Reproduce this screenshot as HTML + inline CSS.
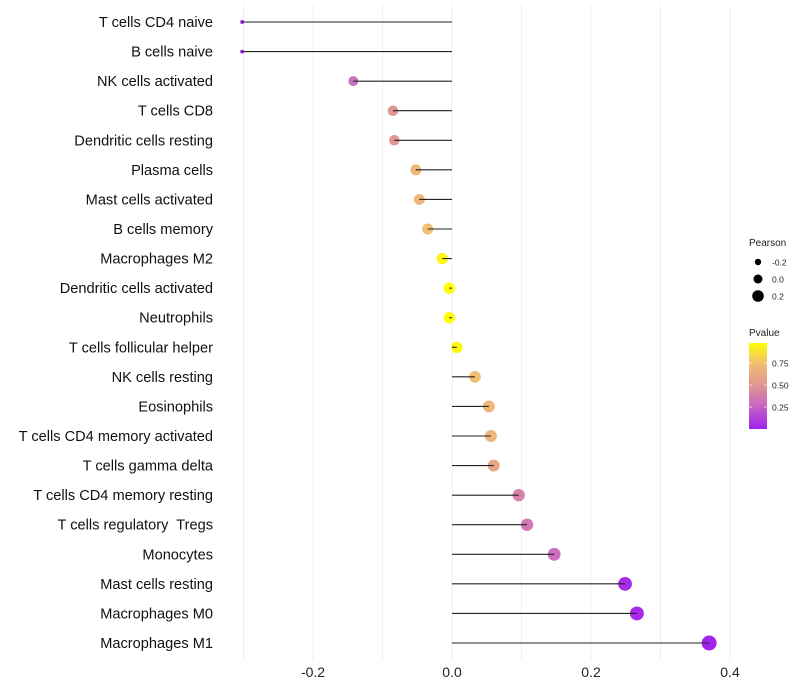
<!DOCTYPE html>
<html><head><meta charset="utf-8"><style>
html,body{margin:0;padding:0;background:#fff;}
svg{display:block;font-family:"Liberation Sans",sans-serif;}
text{white-space:pre;}
</style></head><body>
<svg id="chart" width="800" height="700"></svg>
<script>
const categories=["T cells CD4 naive","B cells naive","NK cells activated","T cells CD8","Dendritic cells resting","Plasma cells","Mast cells activated","B cells memory","Macrophages M2","Dendritic cells activated","Neutrophils","T cells follicular helper","NK cells resting","Eosinophils","T cells CD4 memory activated","T cells gamma delta","T cells CD4 memory resting","T cells regulatory  Tregs","Monocytes","Mast cells resting","Macrophages M0","Macrophages M1"];
const pearson=[-0.302,-0.302,-0.142,-0.085,-0.083,-0.052,-0.047,-0.035,-0.014,-0.004,-0.004,0.007,0.033,0.053,0.056,0.060,0.096,0.108,0.147,0.249,0.266,0.370];
const pvalue=[0.02,0.03,0.3,0.5,0.5,0.7,0.7,0.75,0.95,0.98,0.98,0.95,0.75,0.7,0.7,0.6,0.4,0.35,0.3,0.05,0.03,0.01];
const xTicks=[-0.2,0.0,0.2,0.4];
const xTickLabels=["-0.2","0.0","0.2","0.4"];
const sizeLegend=[-0.2,0.0,0.2];
const sizeLegendLabels=["-0.2","0.0","0.2"];
const pTicks=[0.25,0.5,0.75];
const pTickLabels=["0.25","0.50","0.75"];

const NS="http://www.w3.org/2000/svg";
const svg=document.getElementById('chart');
function el(t,a,p){const e=document.createElementNS(NS,t);for(const k in a)e.setAttribute(k,a[k]);(p||svg).appendChild(e);return e;}
const x=v=>452+v*695;
const y=i=>22+i*(643-22)/(categories.length-1);
const r=v=>v<-0.14?2+(v+0.3)/0.16*3:5+(v+0.14)/0.51*2.5;
const rLeg=v=>4.5+v*6.5;
const stops=[[0,[160,32,240]],[0.3,[205,110,190]],[0.5,[224,150,145]],[0.75,[242,190,114]],[0.98,[255,255,0]]];
function col(p){for(let i=0;i<stops.length-1;i++){const[a,ca]=stops[i],[b,cb]=stops[i+1];if(p<=b||i==stops.length-2){const t=Math.max(0,Math.min(1,(p-a)/(b-a)));return`rgb(${ca.map((c,j)=>Math.round(c+(cb[j]-c)*t)).join(',')})`;}}}

for(let v=-0.3;v<=0.401;v+=0.1){const g=el('line',{x1:x(v),x2:x(v),y1:5,y2:660,stroke:'#efefef','stroke-width':1});

}
xTicks.forEach((v,i)=>{const t=el('text',{x:x(v),y:677,'font-size':14,'text-anchor':'middle',fill:'#222'});t.textContent=xTickLabels[i];

});
categories.forEach((c,i)=>{
const lab=el('text',{x:213,y:y(i)+5,'font-size':14.6,'text-anchor':'end',fill:'#111'});lab.textContent=c;


const d=el('circle',{cx:x(pearson[i]),cy:y(i),r:r(pearson[i]),fill:col(pvalue[i])});


const l=el('line',{x1:x(0),x2:x(pearson[i]),y1:y(i),y2:y(i),stroke:'#222','stroke-width':1.1});


});
const st=el('text',{x:749,y:246,'font-size':10,fill:'#222'});st.textContent='Pearson';


sizeLegend.forEach((v,i)=>{const cy=262+i*17;
const c=el('circle',{cx:758,cy:cy,r:rLeg(v),fill:'#000'});


const t=el('text',{x:772,y:cy+3.5,'font-size':8.5,fill:'#222'});t.textContent=sizeLegendLabels[i];

});
const ct=el('text',{x:749,y:336,'font-size':10,fill:'#222'});ct.textContent='Pvalue';


const defs=el('defs',{});const lg=el('linearGradient',{id:'pg',x1:0,y1:1,x2:0,y2:0},defs);
for(let k=0;k<=10;k++){const p=k/10*0.977;el('stop',{offset:k/10,'stop-color':col(p)},lg);}
const cb=el('rect',{x:749,y:343,width:18,height:86,fill:'url(#pg)'});


pTicks.forEach((p,i)=>{const yy=429-p*88;
el('line',{x1:749,x2:752,y1:yy,y2:yy,stroke:'#fff','stroke-width':0.6});
el('line',{x1:764,x2:767,y1:yy,y2:yy,stroke:'#fff','stroke-width':0.6});
const t=el('text',{x:772,y:yy+3.5,'font-size':8.5,fill:'#222'});t.textContent=pTickLabels[i];

});
</script>
</body></html>
